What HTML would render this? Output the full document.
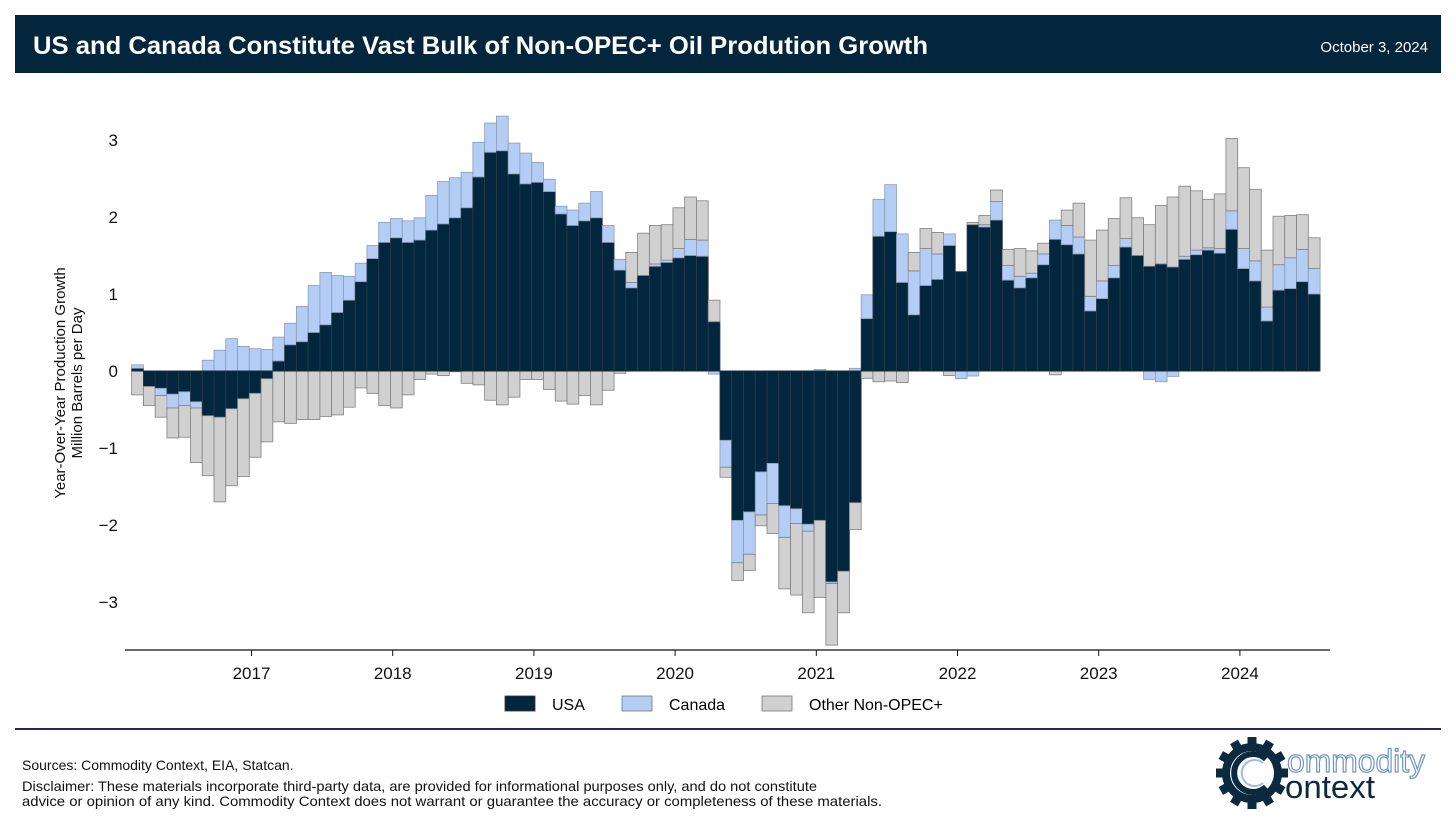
<!DOCTYPE html>
<html><head><meta charset="utf-8"><style>
html,body{margin:0;padding:0;background:#fff;}
svg{display:block;font-family:"Liberation Sans",Arial,sans-serif;}
</style></head><body>
<svg width="1456" height="831" viewBox="0 0 1456 831">
<rect x="15" y="15" width="1426" height="58" fill="#04263d"/>
<text x="33" y="54" fill="#fff" font-size="25" font-weight="bold" textLength="895" lengthAdjust="spacingAndGlyphs">US and Canada Constitute Vast Bulk of Non-OPEC+ Oil Prodution Growth</text>
<text x="1428" y="52" fill="#fff" font-size="15" text-anchor="end">October 3, 2024</text>
<g id="bars"></g>
<g id="axes"></g>
<text transform="translate(66,383) rotate(-90)" font-size="15" text-anchor="middle" fill="#111"><tspan x="0" dy="-1">Year-Over-Year Production Growth</tspan><tspan x="0" dy="17">Million Barrels per Day</tspan></text>
<g>
<g><rect x="505" y="696" width="30" height="15" fill="#03263f" stroke="#333" stroke-width="0.8"/><text x="552" y="710" font-size="16">USA</text></g>
<g><rect x="622" y="696" width="30" height="15" fill="#b3cdf5" stroke="#777" stroke-width="0.8"/><text x="669" y="710" font-size="16">Canada</text></g>
<g><rect x="762" y="696" width="30" height="15" fill="#d0d0d0" stroke="#777" stroke-width="0.8"/><text x="809" y="710" font-size="16">Other Non-OPEC+</text></g>
</g>
<line x1="15" y1="729" x2="1441" y2="729" stroke="#1c2d4f" stroke-width="2"/>
<text x="22" y="770" font-size="14" fill="#111">Sources: Commodity Context, EIA, Statcan.</text>
<text x="22" y="791" font-size="14" fill="#111" textLength="795" lengthAdjust="spacingAndGlyphs">Disclaimer: These materials incorporate third-party data, are provided for informational purposes only, and do not constitute</text>
<text x="22" y="806" font-size="14" fill="#111" textLength="860" lengthAdjust="spacingAndGlyphs">advice or opinion of any kind. Commodity Context does not warrant or guarantee the accuracy or completeness of these materials.</text>
<g>
<g id="gear" fill="#0b2a40"></g>
<circle cx="1252" cy="773" r="22" fill="#fff"/>
<path d="M1266 759 A19 19 0 1 0 1266 787" fill="none" stroke="#0b2a40" stroke-width="6"/>
<path d="M1263 763 A13 13 0 1 0 1263 783" fill="none" stroke="#9fbde0" stroke-width="2"/>
<text x="1287" y="772" font-size="32" fill="#fff" stroke="#6f94c4" stroke-width="1.2" textLength="138" lengthAdjust="spacingAndGlyphs">ommodity</text>
<text x="1285" y="798" font-size="32" fill="#0b2a40" textLength="90" lengthAdjust="spacingAndGlyphs">ontext</text>
</g>
</svg>
<script>
const usa=[0.035,-0.2,-0.225,-0.3,-0.27,-0.4,-0.58,-0.6,-0.49,-0.36,
-0.29,-0.1,0.13,0.34,0.38,0.5,0.6,0.76,0.92,1.16,
1.46,1.67,1.73,1.67,1.70,1.83,1.91,1.99,2.12,2.52,
2.84,2.86,2.56,2.43,2.45,2.33,2.04,1.89,1.95,1.99,
1.67,1.31,1.08,1.24,1.36,1.41,1.47,1.50,1.49,0.64,
-0.90,-1.94,-1.83,-1.31,-1.20,-1.75,-1.79,-1.99,-1.94,-2.74,
-2.60,-1.71,0.68,1.75,1.81,1.15,0.73,1.11,1.19,1.63,
1.29,1.90,1.87,1.96,1.18,1.08,1.21,1.38,1.71,1.64,
1.52,0.78,0.94,1.21,1.61,1.50,1.36,1.39,1.35,1.45,
1.51,1.57,1.53,1.84,1.33,1.17,0.65,1.05,1.07,1.16,1.00];
const canada=[0.045,0,-0.095,-0.18,-0.18,-0.08,0.14,0.27,0.42,0.32,
0.29,0.28,0.31,0.28,0.46,0.61,0.68,0.48,0.31,0.24,
0.17,0.26,0.25,0.28,0.29,0.45,0.55,0.52,0.46,0.45,
0.38,0.45,0.40,0.40,0.26,0.16,0.10,0.20,0.23,0.34,
0.22,0.14,0.07,0,0.03,0.03,0.12,0.21,0.21,-0.04,
-0.35,-0.55,-0.55,-0.56,-0.52,-0.41,-0.19,-0.09,0.02,-0.02,
0,0.035,0.31,0.48,0.61,0.63,0.57,0.48,0.33,0.15,
-0.10,-0.065,0.03,0.24,0.19,0.15,0.06,0.14,0.25,0.25,
0.22,0.19,0.23,0.16,0.11,0,-0.11,-0.14,-0.07,0.04,
0.06,0.03,0.06,0.24,0.26,0.26,0.18,0.33,0.40,0.42,0.33];
const other=[-0.31,-0.25,-0.28,-0.39,-0.41,-0.71,-0.78,-1.1,-1.0,-1.01,
-0.83,-0.82,-0.66,-0.68,-0.63,-0.63,-0.59,-0.57,-0.47,-0.22,
-0.29,-0.45,-0.48,-0.31,-0.11,-0.04,-0.06,-0.01,-0.16,-0.18,
-0.38,-0.44,-0.34,-0.11,-0.11,-0.24,-0.39,-0.43,-0.32,-0.44,
-0.25,-0.03,0.39,0.55,0.5,0.46,0.53,0.55,0.51,0.28,
-0.13,-0.23,-0.21,-0.14,-0.39,-0.67,-0.93,-1.06,-1.0,-0.80,
-0.54,-0.35,-0.095,-0.14,-0.13,-0.15,0.24,0.26,0.28,-0.06,
0,0.03,0.12,0.15,0.21,0.36,0.29,0.14,-0.05,0.20,
0.44,0.73,0.66,0.61,0.53,0.49,0.54,0.76,0.91,0.91,
0.77,0.63,0.71,0.94,1.05,0.93,0.74,0.63,0.55,0.45,0.40];
const startYear=2016, startMonth=2;
const yTicks=[3,2,1,0,-1,-2,-3];
const yTickLabels=["3","2","1","0","\u22121","\u22122","\u22123"];
const xTickYears=[2017,2018,2019,2020,2021,2022,2023,2024];

const NS="http://www.w3.org/2000/svg";
const pxPerYear=141.2, x2017=251.5;
function xScale(yearFrac){return x2017+(yearFrac-2017)*pxPerYear;}
function yScale(v){return 371-v*77;}
const bw=pxPerYear/12;
const barsG=document.getElementById('bars');
const axesG=document.getElementById('axes');
const series=[{d:usa,fill:'#03263f',stroke:'#2a3a48',name:'usa'},{d:canada,fill:'#b3cdf5',stroke:'#8a9bb5',name:'canada'},{d:other,fill:'#d0d0d0',stroke:'#808080',name:'other'}];
for(let i=0;i<usa.length;i++){
  const t=startYear+(startMonth+i)/12;
  const x0=xScale(t)-2.2;
  let pos=0,neg=0;
  series.forEach(s=>{
    const v=s.d[i]; if(!v) return;
    let a,b;
    if(v>0){a=pos;b=pos+v;pos=b;} else {a=neg;b=neg+v;neg=b;}
    const r=document.createElementNS(NS,'rect');
    r.setAttribute('x',x0);r.setAttribute('width',bw);
    r.setAttribute('y',Math.min(yScale(a),yScale(b)));
    r.setAttribute('height',Math.abs(yScale(a)-yScale(b)));
    r.setAttribute('fill',s.fill);r.setAttribute('stroke',s.stroke);r.setAttribute('stroke-width','0.8');
    
    
    barsG.appendChild(r);
  });
}
const zl=document.createElementNS(NS,'line');
zl.setAttribute('x1',xScale(startYear+startMonth/12)-2.2);zl.setAttribute('x2',xScale(startYear+(startMonth+usa.length)/12)-2.2);
zl.setAttribute('y1',yScale(0));zl.setAttribute('y2',yScale(0));zl.setAttribute('stroke','#1a2a3a');zl.setAttribute('stroke-width','1');


barsG.appendChild(zl);
yTicks.forEach((v,k)=>{
  const t=document.createElementNS(NS,'text');
  t.setAttribute('x',118);t.setAttribute('y',yScale(v)+6);t.setAttribute('text-anchor','end');t.setAttribute('font-size','17');t.setAttribute('fill','#111');
  t.textContent=yTickLabels[k];
  
  
  axesG.appendChild(t);
});
const ax=document.createElementNS(NS,'line');
ax.setAttribute('x1',125);ax.setAttribute('x2',1330);ax.setAttribute('y1',650);ax.setAttribute('y2',650);ax.setAttribute('stroke','#111');ax.setAttribute('stroke-width','1.2');


axesG.appendChild(ax);
xTickYears.forEach(yr=>{
  const x=xScale(yr);
  const tk=document.createElementNS(NS,'line');
  tk.setAttribute('x1',x);tk.setAttribute('x2',x);tk.setAttribute('y1',650);tk.setAttribute('y2',656);tk.setAttribute('stroke','#111');
  
  
  axesG.appendChild(tk);
  const t=document.createElementNS(NS,'text');
  t.setAttribute('x',x);t.setAttribute('y',679);t.setAttribute('text-anchor','middle');t.setAttribute('font-size','17');t.setAttribute('fill','#111');
  t.textContent=yr;
  
  
  axesG.appendChild(t);
});
const gear=document.getElementById('gear');
const c=document.createElementNS(NS,'circle');
c.setAttribute('cx',1252);c.setAttribute('cy',773);c.setAttribute('r',30);


gear.appendChild(c);
for(let k=0;k<12;k++){
  const r=document.createElementNS(NS,'rect');
  r.setAttribute('x',1247.5);r.setAttribute('y',737);r.setAttribute('width',9);r.setAttribute('height',10);
  r.setAttribute('transform','rotate('+(k*30)+' 1252 773)');
  
  
  gear.appendChild(r);
}
</script>
</body></html>
